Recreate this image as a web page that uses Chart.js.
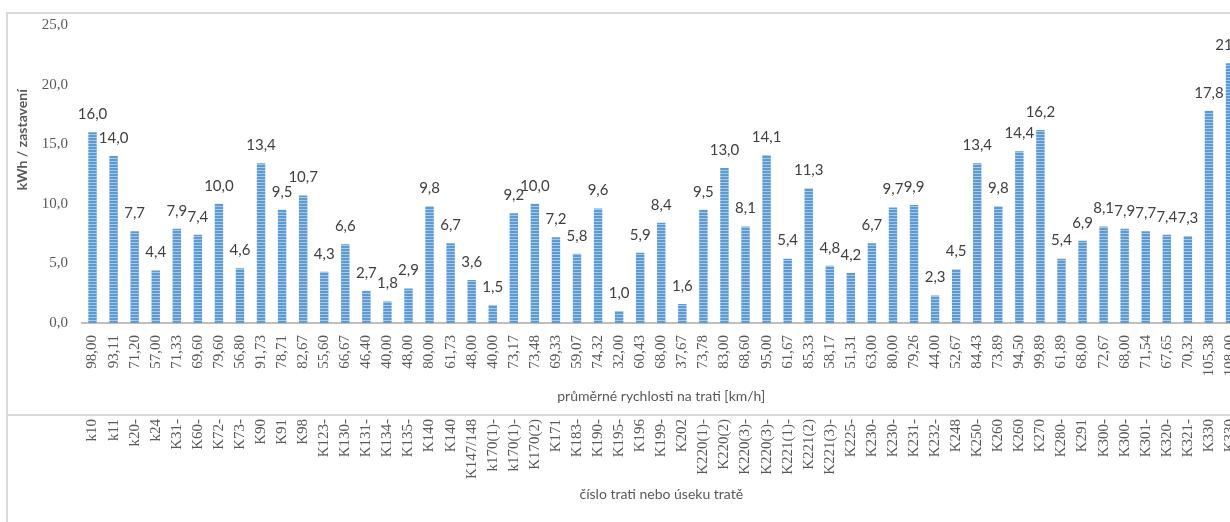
<!DOCTYPE html>
<html>
<head>
  <meta charset="UTF-8" />
  <title>kWh / zastavení</title>
  <script src="https://cdn.jsdelivr.net/npm/chart.js"></script>
  <style>
    body {
      margin: 0;
      background: #fff;
      overflow: hidden;
    }
    .frame {
      position: absolute;
      left: 6px;
      top: 12px;
      width: 1400px;
      height: 600px;
      border-top: 2px solid #d9d9d9;
      border-left: 2px solid #d9d9d9;
    }
    canvas {
      position: absolute;
      left: 0;
      top: 0;
    }
  </style>
</head>
<body>
  <div class="frame"></div>
  <canvas id="chart" width="1260" height="522"></canvas>

  <script>
    // track numbers / sections (second category level)
    const tracks = [
      'k10', 'k11', 'k20-', 'k24', 'K31-', 'K60-', 'K72-', 'K73-', 'K90', 'K91', 'K98',
      'K123-', 'K130-', 'K131-', 'K134-', 'K135-', 'K140', 'K140', 'K147/148', 'k170(1)-',
      'k170(1)-', 'K170(2)', 'K171', 'K183-', 'K190-', 'K195-', 'K196', 'K199-', 'K202',
      'K220(1)-', 'K220(2)', 'K220(3)-', 'K220(3)-', 'K221(1)-', 'K221(2)', 'K221(3)-',
      'K225-', 'K230-', 'K230-', 'K231-', 'K232-', 'K248', 'K250-', 'K260', 'K260', 'K270',
      'K280-', 'K291', 'K300-', 'K300-', 'K301-', 'K320-', 'K321-', 'K330', 'K330'
    ];

    // average speeds on the track [km/h] (first category level)
    const speeds = [
      '98,00', '93,11', '71,20', '57,00', '71,33', '69,60', '79,60', '56,80', '91,73', '78,71', '82,67',
      '55,60', '66,67', '46,40', '40,00', '48,00', '80,00', '61,73', '48,00', '40,00',
      '73,17', '73,48', '69,33', '59,07', '74,32', '32,00', '60,43', '68,00', '37,67',
      '73,78', '83,00', '68,60', '95,00', '61,67', '85,33', '58,17',
      '51,31', '63,00', '80,00', '79,26', '44,00', '52,67', '84,43', '73,89', '94,50', '99,89',
      '61,89', '68,00', '72,67', '68,00', '71,54', '67,65', '70,32', '105,38', '108,00'
    ];

    // kWh per stop
    const kwh = [
      16.0, 14.0, 7.7, 4.4, 7.9, 7.4, 10.0, 4.6, 13.4, 9.5, 10.7,
      4.3, 6.6, 2.7, 1.8, 2.9, 9.8, 6.7, 3.6, 1.5,
      9.2, 10.0, 7.2, 5.8, 9.6, 1.0, 5.9, 8.4, 1.6,
      9.5, 13.0, 8.1, 14.1, 5.4, 11.3, 4.8,
      4.2, 6.7, 9.7, 9.9, 2.3, 4.5, 13.4, 9.8, 14.4, 16.2,
      5.4, 6.9, 8.1, 7.9, 7.7, 7.4, 7.3, 17.8, 21.8
    ];

    const yTicks = [0, 5, 10, 15, 20, 25];

    const fmt = v => v.toFixed(1).replace('.', ',');

    // striped fill like the original bars
    const pc = document.createElement('canvas');
    pc.width = 4; pc.height = 3;
    const pctx = pc.getContext('2d');
    pctx.fillStyle = '#5b9bd5';
    pctx.fillRect(0, 0, 4, 3);
    pctx.fillStyle = '#a7c8e8';
    pctx.fillRect(0, 2, 4, 1);
    const stripes = pctx.createPattern(pc, 'repeat');

    const valueLabels = {
      id: 'valueLabels',
      afterDatasetsDraw(chart) {
        const ctx = chart.ctx;
        const meta = chart.getDatasetMeta(0);
        ctx.save();
        ctx.font = '15px Lato';
        ctx.fillStyle = '#404040';
        ctx.textAlign = 'center';
        ctx.textBaseline = 'middle';
        meta.data.forEach((bar, i) => {
          ctx.fillText(fmt(kwh[i]), bar.x, bar.y - 18);
        });
        ctx.restore();
      }
    };

    const extras = {
      id: 'extras',
      afterDraw(chart) {
        const ctx = chart.ctx;
        const x2 = chart.scales.x2;
        const area = chart.chartArea;
        ctx.save();
        // separator between the two category levels
        ctx.strokeStyle = '#d9d9d9';
        ctx.lineWidth = 2;
        ctx.beginPath();
        ctx.moveTo(7, x2.top);
        ctx.lineTo(chart.width, x2.top);
        ctx.stroke();
        // y axis title
        ctx.translate(22, area.top + (area.bottom - area.top) * 0.385);
        ctx.rotate(-Math.PI / 2);
        ctx.font = 'bold 14px Lato';
        ctx.fillStyle = '#595959';
        ctx.textAlign = 'center';
        ctx.textBaseline = 'middle';
        ctx.fillText('kWh / zastavení', 0, 0);
        ctx.restore();
      }
    };

    new Chart(document.getElementById('chart'), {
      type: 'bar',
      data: {
        labels: speeds,
        datasets: [{
          data: kwh,
          backgroundColor: stripes,
          borderWidth: 0,
          barPercentage: 0.4,
          categoryPercentage: 1
        }]
      },
      options: {
        responsive: false,
        animation: false,
        devicePixelRatio: 1,
        layout: { padding: { top: 25, right: 0, bottom: 0, left: 0 } },
        plugins: {
          legend: { display: false },
          tooltip: { enabled: false }
        },
        scales: {
          y: {
            min: 0,
            max: 25,
            afterFit: s => { s.width = 82; },
            afterBuildTicks: s => { s.ticks = yTicks.map(v => ({ value: v })); },
            grid: { display: false, drawTicks: false },
            border: { display: false },
            ticks: {
              padding: 14,
              color: '#595959',
              font: { family: 'Liberation Serif', size: 15 },
              callback: v => fmt(v)
            }
          },
          x: {
            position: 'bottom',
            weight: 0,
            afterFit: s => { s.height = 92; },
            grid: { display: false, drawTicks: false },
            border: { display: true, color: '#bfbfbf', width: 2 },
            ticks: {
              autoSkip: false,
              minRotation: 90,
              maxRotation: 90,
              padding: 12,
              color: '#595959',
              font: { family: 'Liberation Serif', size: 15 }
            },
            title: {
              display: true,
              text: 'průměrné rychlosti na trati [km/h]',
              color: '#595959',
              font: { family: 'Lato', size: 14 },
              padding: { top: 0, bottom: 10 }
            }
          },
          x2: {
            type: 'category',
            labels: tracks,
            position: 'bottom',
            weight: 1,
            offset: true,
            afterFit: s => { s.height = 107; },
            grid: { display: false, drawTicks: false },
            border: { display: false },
            ticks: {
              autoSkip: false,
              minRotation: 90,
              maxRotation: 90,
              padding: 4,
              color: '#595959',
              font: { family: 'Liberation Serif', size: 15 }
            },
            title: {
              display: true,
              text: 'číslo trati nebo úseku tratě',
              color: '#595959',
              font: { family: 'Lato', size: 14 },
              padding: { top: 0, bottom: 19 }
            }
          }
        }
      },
      plugins: [valueLabels, extras]
    });
  </script>
</body>
</html>
